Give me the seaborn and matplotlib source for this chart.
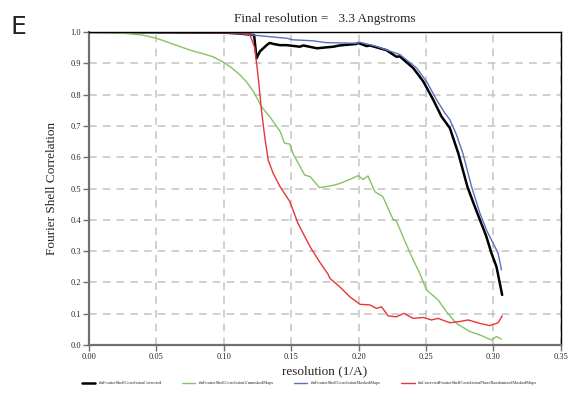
import pandas as pd
import matplotlib
matplotlib.use("Agg")
import matplotlib.pyplot as plt
import seaborn as sns

# FSC curves
black_x = [0.0, 0.10, 0.112, 0.1225, 0.1243, 0.1268, 0.1318, 0.134, 0.1367, 0.1416, 0.1466,
           0.1565, 0.159, 0.169, 0.1812, 0.186, 0.1985, 0.1997, 0.206, 0.2084, 0.2207,
           0.228, 0.2306, 0.2405, 0.248, 0.2553, 0.2615, 0.2677, 0.274, 0.2807,
           0.2855, 0.29, 0.2945, 0.2986, 0.3023, 0.3065]
black_y = [1.0, 0.998, 0.995, 0.99, 0.916, 0.938, 0.958, 0.965, 0.962, 0.958, 0.958,
           0.953, 0.957, 0.948, 0.953, 0.957, 0.962, 0.965, 0.955, 0.957, 0.942,
           0.921, 0.922, 0.885, 0.842, 0.784, 0.73, 0.693, 0.612, 0.506,
           0.45, 0.40, 0.35, 0.293, 0.25, 0.16]

green_x = [0.0, 0.02, 0.028, 0.04, 0.05, 0.06, 0.075, 0.085, 0.092, 0.10, 0.106, 0.112,
           0.117, 0.122, 0.128, 0.134, 0.142, 0.145, 0.149, 0.1515, 0.156, 0.160, 0.164,
           0.171, 0.176, 0.181, 0.186, 0.1935, 0.1997, 0.2034, 0.207, 0.212, 0.218,
           0.2257, 0.228, 0.234, 0.2405, 0.2454, 0.2504, 0.259, 0.2652, 0.2726, 0.2825,
           0.29, 0.2986, 0.3023, 0.306]
green_y = [1.0, 0.998, 0.995, 0.99, 0.98, 0.965, 0.942, 0.93, 0.921, 0.903, 0.885, 0.863,
           0.84, 0.81, 0.761, 0.73, 0.681, 0.645, 0.642, 0.61, 0.575, 0.543, 0.538,
           0.503, 0.506, 0.51, 0.516, 0.529, 0.541, 0.529, 0.54, 0.49, 0.474,
           0.40, 0.397, 0.335, 0.272, 0.229, 0.176, 0.144, 0.106, 0.069, 0.043,
           0.032, 0.016, 0.027, 0.019]

blue_x = [0.0, 0.10, 0.112, 0.122, 0.1268, 0.1466, 0.1515, 0.166, 0.176, 0.1985, 0.201,
          0.2133, 0.2306, 0.243, 0.2504, 0.2578, 0.264, 0.2677, 0.2726, 0.2775, 0.2838,
          0.29, 0.2949, 0.2998, 0.3035, 0.306]
blue_y = [1.0, 0.998, 0.995, 0.99, 0.988, 0.98, 0.975, 0.972, 0.966, 0.964, 0.967,
          0.954, 0.928, 0.885, 0.842, 0.784, 0.741, 0.72, 0.672, 0.61, 0.506,
          0.421, 0.367, 0.325, 0.293, 0.24]

red_x = [0.0, 0.10, 0.112, 0.117, 0.1194, 0.123, 0.1256, 0.128, 0.1305, 0.133, 0.1367,
         0.1416, 0.1466, 0.149, 0.155, 0.164, 0.171, 0.1775, 0.1787, 0.186, 0.1935,
         0.201, 0.2084, 0.2133, 0.217, 0.222, 0.228, 0.2336, 0.2405, 0.248, 0.254,
         0.259, 0.2677, 0.275, 0.2813, 0.29, 0.2973, 0.3035, 0.3065]
red_y = [1.0, 0.998, 0.997, 0.995, 0.991, 0.949, 0.853, 0.748, 0.661, 0.59, 0.548,
         0.507, 0.474, 0.458, 0.389, 0.314, 0.266, 0.225, 0.213, 0.186, 0.154,
         0.130, 0.128, 0.117, 0.122, 0.093, 0.09, 0.101, 0.085, 0.088, 0.08,
         0.085, 0.071, 0.075, 0.08, 0.069, 0.062, 0.071, 0.093]

labels = [
    "rlnFourierShellCorrelationCorrected",
    "rlnFourierShellCorrelationUnmaskedMaps",
    "rlnFourierShellCorrelationMaskedMaps",
    "rlnCorrectedFourierShellCorrelationPhaseRandomizedMaskedMaps",
]

sns.set_style("white")
plt.rcParams["font.family"] = ["Liberation Serif", "DejaVu Serif"]

fig = plt.figure(figsize=(5.74, 4.0), dpi=100)
ax = fig.add_axes([0.155, 0.1375, 0.822, 0.7825])

series = [
    (black_x, black_y, "black", 1.8),
    (green_x, green_y, "#86c267", 1.0),
    (blue_x, blue_y, "#5b6fc0", 1.0),
    (red_x, red_y, "#e8353a", 1.0),
]
for (xs, ys, col, lw), lab in zip(series, labels):
    df = pd.DataFrame({"res": xs, "fsc": ys})
    sns.lineplot(data=df, x="res", y="fsc", ax=ax, color=col, linewidth=lw,
                 label=lab, sort=False)

ax.set_xlim(0, 0.35)
ax.set_ylim(0, 1.0)
ax.set_xticks([0.0, 0.05, 0.10, 0.15, 0.20, 0.25, 0.30, 0.35])
ax.set_xticklabels(["0.00", "0.05", "0.10", "0.15", "0.20", "0.25", "0.30", "0.35"])
ax.set_yticks([i / 10 for i in range(11)])
ax.set_yticklabels([f"{i / 10:.1f}" for i in range(11)])
ax.tick_params(axis="both", labelsize=6, length=4, width=1, color="#707070",
               direction="out", bottom=True, left=True, pad=1.5)

ax.grid(True, color="#c4c4c4", linestyle=(0, (5, 4)), linewidth=1.1)
ax.set_axisbelow(True)
for side in ["left", "bottom"]:
    ax.spines[side].set_color("#707070")
    ax.spines[side].set_linewidth(1.6)
for side in ["top", "right"]:
    ax.spines[side].set_color("black")
    ax.spines[side].set_linewidth(1.0)

ax.set_xlabel("resolution (1/A)", fontsize=9.5, labelpad=3)
ax.set_ylabel("Fourier Shell Correlation", fontsize=9.5, labelpad=9)
ax.set_title("Final resolution =   3.3 Angstroms", fontsize=9.5, pad=7)

ax.get_legend().remove()
handles, labs = ax.get_legend_handles_labels()
fig.legend(handles, labs, loc="center left", bbox_to_anchor=(82 / 574, 17 / 400),
           borderaxespad=0, borderpad=0, ncol=4, fontsize=3.2, frameon=False,
           handlelength=3, columnspacing=4.5, handletextpad=0.8)

fig.text(0.018, 0.915, "E", fontsize=18, family="DejaVu Sans")

fig.savefig("out.png", dpi=100)
